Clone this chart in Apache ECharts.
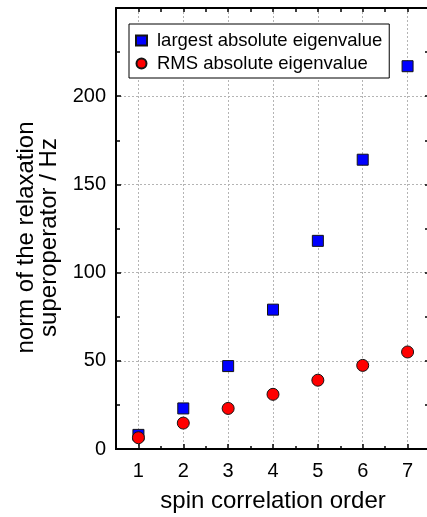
<!DOCTYPE html>
<html>
<head>
<meta charset="utf-8">
<script src="https://cdn.jsdelivr.net/npm/echarts@6/dist/echarts.min.js"></script>
<style>
  html, body { margin: 0; padding: 0; background: #fff; }
  #chart { width: 427px; height: 517px; }
</style>
</head>
<body>
<div id="chart"></div>
<script>
// spin correlation order
const orders = [1, 2, 3, 4, 5, 6, 7]
// norm values (Hz)
const largestEig = [8, 23, 47, 79, 118, 164, 217]
const rmsEig = [6.4, 14.7, 23, 31, 39, 47.4, 55]
// y tick labels
const yTicks = [0, 50, 100, 150, 200]

const font = 'Arial, "Liberation Sans", sans-serif'
const black = { color: '#000', width: 1.5 }
const gridLine = { show: true, lineStyle: { color: '#b4b4b4', type: [2, 2], width: 1 } }

// plain axis used only for extra ticks / frame
const tickAxis = (extra) => Object.assign({
  type: 'value',
  axisLine: { show: true, onZero: false, lineStyle: { color: '#000', width: 2 } },
  axisLabel: { show: false },
  splitLine: { show: false }
}, extra)

const chart = echarts.init(document.getElementById('chart'))

const option = {
  backgroundColor: '#fff',
  animation: false,
  grid: { left: 116, right: -3, top: 8, bottom: 68, outerBoundsMode: 'none' },
  legend: {
    orient: 'vertical',
    left: 129,
    top: 24,
    padding: [7, 7, 5, 6],
    itemGap: 4,
    itemWidth: 11,
    itemHeight: 10,
    borderColor: '#000',
    borderWidth: 1,
    backgroundColor: '#fff',
    textStyle: { fontFamily: font, fontSize: 18.5, color: '#000', padding: [0, 0, 0, 5] },
    data: ['largest absolute eigenvalue', 'RMS absolute eigenvalue']
  },
  xAxis: [{
    type: 'value',
    min: 0.5,
    max: 7.5,
    interval: 0.5,
    name: 'spin correlation order',
    nameLocation: 'middle',
    nameGap: 40,
    nameTextStyle: { fontFamily: font, fontSize: 24, color: '#000' },
    axisLine: { show: true, onZero: false, lineStyle: { color: '#000', width: 2 } },
    axisTick: { show: true, inside: true, length: 5, customValues: orders, lineStyle: black },
    axisLabel: { fontFamily: font, fontSize: 20, color: '#000', margin: 12, customValues: orders },
    splitLine: gridLine
  },
  tickAxis({
    position: 'bottom', min: 0.5, max: 7.5, interval: 0.5,
    axisTick: { show: true, inside: true, length: 3, lineStyle: black }
  }),
  tickAxis({
    position: 'top', min: 0.5, max: 7.5, interval: 0.5,
    axisTick: { show: true, inside: true, length: 4, lineStyle: black }
  })],
  yAxis: [{
    type: 'value',
    min: 0,
    max: 250,
    interval: 50,
    name: 'norm of the relaxation\nsuperoperator / Hz',
    nameLocation: 'middle',
    nameGap: 54,
    nameTextStyle: { fontFamily: font, fontSize: 24, color: '#000', lineHeight: 23, padding: [0, 18, 0, 0] },
    axisLine: { show: true, onZero: false, lineStyle: { color: '#000', width: 2 } },
    axisTick: { show: true, inside: true, length: 5, lineStyle: black },
    minorTick: { show: true, splitNumber: 2, length: 4, lineStyle: black },
    axisLabel: { fontFamily: font, fontSize: 20, color: '#000', margin: 10, customValues: yTicks },
    splitLine: gridLine
  },
  tickAxis({
    position: 'right', min: 0, max: 250, interval: 25,
    axisTick: { show: true, inside: true, length: 5, lineStyle: black }
  })],
  series: [{
    name: 'largest absolute eigenvalue',
    type: 'scatter',
    symbol: 'rect',
    symbolSize: 11,
    itemStyle: { color: '#0000ff', borderColor: '#141414', borderWidth: 1, opacity: 1 },
    data: orders.map((o, i) => [o, largestEig[i]])
  }, {
    name: 'RMS absolute eigenvalue',
    type: 'scatter',
    symbol: 'circle',
    symbolSize: 12,
    itemStyle: { color: '#ff0000', borderColor: '#141414', borderWidth: 1, opacity: 1 },
    data: orders.map((o, i) => [o, rmsEig[i]])
  }]
}

chart.setOption(option)
</script>
</body>
</html>
